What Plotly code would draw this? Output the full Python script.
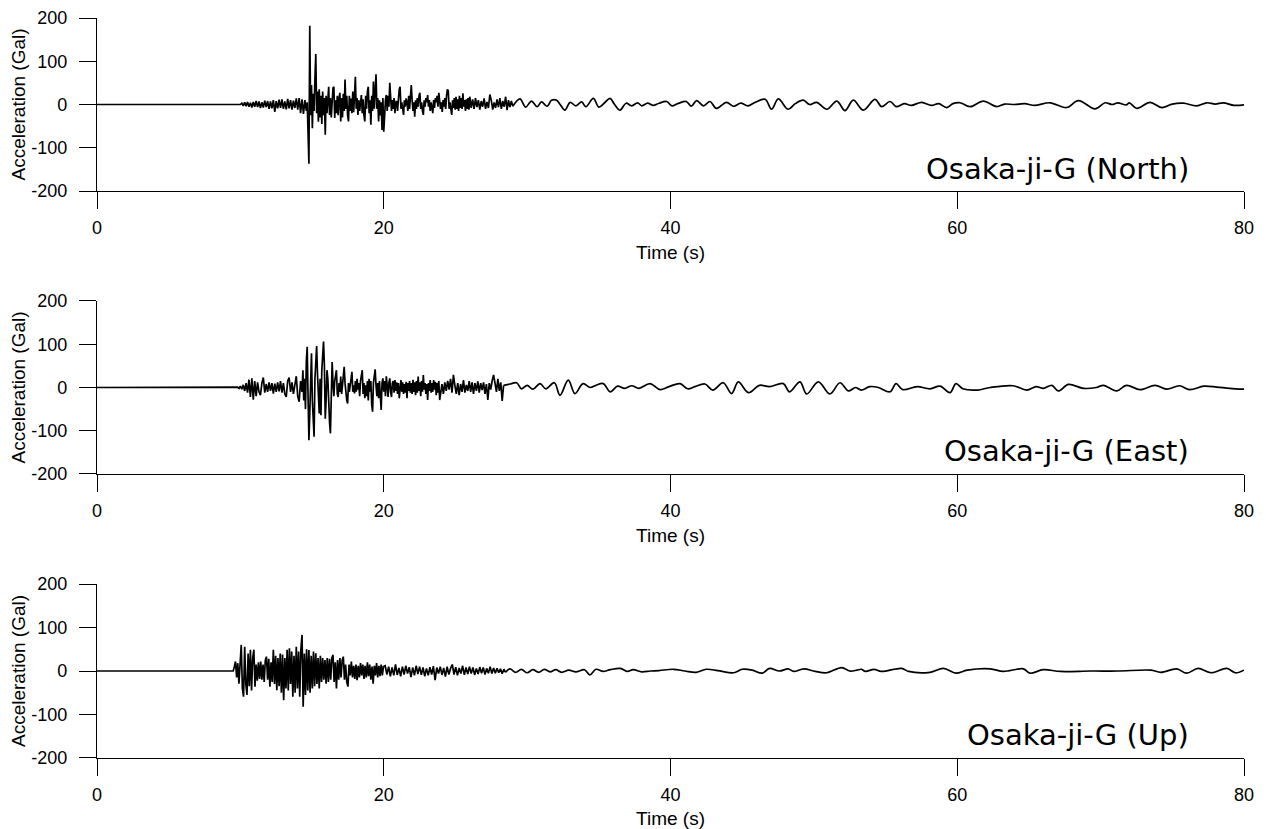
import plotly.graph_objects as go
from plotly.subplots import make_subplots

# ---------------- data ----------------
# Each trace is assembled from segments: (start time, step, values) for dense parts,
# and explicit (time, value) turning points for the quieter tail.

north_pre_t = [0.0, 9.9]
north_pre_a = [0, 0]
north_noise_a = [0, 3, -3, 5, -4, 6, -5, 4, -7, 6,
                 -5, 8, -6, 7, -8, 5, -7, 9, -6, 8,
                 -10, 7, -9, 10, -17, 8, -9, 11, -8, 12,
                 -10, 7, -11, 13, -9, 10, -12, 9, -8, 14,
                 -12, 15, -20, 12, -22, 10, -15]          # 10.0 s, step 0.1
north_main_a = [5, -45, -137, 182, -25, 45, -55, 25, -15, 60,
                117, -20, 30, -40, 35, -30, 20, -45, 30, -25,
                15, -70, 20, -20, 25, 41, -24, 15, -30, 20,
                38, 41, -31, 10, -20, 20, -25, 15, 27, -39,
                15, -30, 25, -15, 58, -10, 20, -25, -39, 20,
                -15, 14, -20, 30, -18, 20, 64, -10, 15, -24,
                10, -15, 5, 22, -20, 12, -25, -39, 20, -10,
                30, 41, -20, 10, -47, 20, -15, 53, -10, 45,
                70, -10, 15, -39, 10, -25, 5, -59, 15, -63,
                -20, 10, 22, -15, 20, -5, 50, 20, -15, 10,
                -10, 15, -20, 5, 8, -15, 20, 35, 41, -10,
                5, -20, -24, 10, -5, 14, 5, -15, 20, -10,
                30, 45, 10, -15, 5, -28, 10, -10, 15, -5,
                20, 27, -10, 5, -15, -24, 10, -5, 15, 5,
                22, -5, 10, -15, 5, -12, -20, 10, -8, 15,
                5, 20, -5, 27, 10, -10, 5, -17, 10, -5,
                15, -10, 20, 35, 32, -10, 5, -20, -24, 10,
                -8, 15, -12, 18, -10, 12, -15, 20, -8, 15,
                -10, 26, -5, 10, -15, 12, -10, 15, -12, 18]   # 14.66 s, step 0.06
north_late_a = [-8, 12, -10, 15, -6, 10, -12, 8, -5, 14,
                -10, 6, -8, 23, 10, -12, 5, -8, 12, -6,
                15, -10, 8, -5, 18, -13, 10, -6, 8, -4]       # 26.1 s, step 0.1
north_tail_t = [29.5, 29.9, 30.3, 30.7, 31.0, 31.4, 31.7, 32.06, 32.3, 32.64,
                33.0, 33.4, 33.8, 34.1, 34.62, 35.0, 35.4, 35.78, 36.1, 36.48,
                36.9, 37.3, 37.7, 38.0, 38.4, 38.8, 39.2, 39.73, 40.1, 40.5,
                41.1, 41.45, 41.82, 42.3, 42.75, 43.2, 43.9, 44.4, 44.9, 45.4,
                45.9, 46.6, 47.05, 47.52, 48.2, 48.7, 49.26, 49.7, 50.2, 50.9,
                51.6, 52.17, 52.75, 53.45, 54.26, 54.73, 55.31, 55.75, 56.3, 56.8,
                57.52, 58.2, 58.7, 59.26, 59.7, 60.19, 60.89, 61.82, 62.75, 63.3,
                64.0, 64.7, 65.4, 66.47, 67.63, 68.45, 69.61, 70.31, 70.8, 71.2,
                71.8, 72.0, 72.52, 73.45, 74.26, 75.0, 75.77, 76.7, 77.4, 78.0,
                78.56, 79.3, 80.0]
north_tail_a = [13, -6, 8, -5, 6, -4, 10, 10, 0, -13,
                5, -3, 6, -5, 14, -6, 4, 14, 0, -13,
                3, -3, 4, -3, 3, -2, 3, 7, -3, 2,
                7, -4, 9, -3, 7, -9, 5, -4, 3, -3,
                5, 12, -11, 13, -11, 2, 10, 0, 5, -11,
                8, -14, 10, -13, 12, -5, 7, -5, 2, -2,
                5, -2, 2, -7, 2, 4, -5, 8, -5, 1,
                0, 2, -2, 4, -7, 9, -10, 4, 0, 4,
                -1, 4, -9, 5, -7, 1, 3, -3, 4, 1,
                4, -2, -1]

east_pre_t = [0.0, 9.6]
east_pre_a = [0, 0]
east_noise_a = [0, 1, -2, 3, -4, 6, -8, 10, -12, 18,
                -22, 21, -28, 15, -20, 12, -10, -18, 10, 23,
                -12, 8, -10, 12, -8, 10, -14, 9, -10, 12,
                -9, 15, -12, 10, -15, -22, 15, 23, -10, 12,
                -15, 10, 26, -20, -33, 15, -10]               # 9.7 s, step 0.1
east_main_a = [40, -30, 20, -50, 60, 94, -20, -122, -60, 40,
               79, -30, -80, -114, 20, 60, 96, 30, -40, -60,
               20, -64, 40, 70, 106, 50, -72, -30, 40, 20,
               -50, -80, -106, 20, 59, 10, -20, 15, 30, 40,
               -15, -22, 10, -10, 25, -15, 5, 20, 48, 10,
               -20, -30, -37, 10, -10, 15, 20, 36, -10, 5,
               -14, 15, -10, 20, -5, 10, -20, 15, 30, 40,
               -15, 10, -25, 5, -20, 15, -30, 20, -10, 15,
               -40, -56, 10, 30, 42, 5, -20, 10, -25, 15,
               -30, -52, 10, 21, -10, 15, -20, 26, 5, -22,
               10, 21, -10, -22, 10, 15, -12, 17, -8, 12,
               -15, 10, -25, 5, 17, -10, 12, -15, 8, -12,
               13, -25, 10, -8, 15, -12, 10, -15, 18, -10,
               12, -18, 15, -12, 25, -8, 12, -20, 15, -10,
               29, -5, 10, -15, 8, -29, 10, -8, 17, -12,
               10, -10, 17, -5, 13, -18, 10, -12, 15, -29]    # 14.36 s, step 0.06
east_late_a = [-10, 8, -15, 12, -8, 15, -5, 20, -12, 29,
               5, -15, 10, -18, 8, -10, 17, -12, 6, -8,
               15, -10, 12, -15, 10, -8, 14, -12, 10, -6,
               12, -15, 8, -29, 10, -5, 15, 29, 10, -10,
               20, -8, 12, -31, 5]                             # 23.96 s, step 0.1
east_tail_t = [28.8, 29.27, 29.6, 30.0, 30.4, 30.9, 31.3, 31.9, 32.29, 32.87,
               33.34, 33.9, 34.4, 34.8, 35.31, 35.8, 36.3, 36.8, 37.3, 37.8,
               38.57, 39.27, 39.9, 40.66, 41.2, 41.7, 42.4, 42.95, 43.68, 44.26,
               44.73, 45.43, 46.2, 46.9, 47.87, 48.3, 49.03, 49.5, 50.31, 51.12,
               51.82, 52.4, 52.9, 53.3, 53.9, 54.5, 55.31, 55.73, 56.2, 57.2,
               58.1, 58.8, 59.5, 59.91, 60.4, 61.4, 62.3, 63.9, 64.85, 65.5,
               66.0, 66.6, 67.05, 67.75, 68.8, 69.7, 70.2, 71.12, 71.8, 72.75,
               73.8, 74.6, 75.5, 76.2, 77.2, 78.1, 79.0, 80.0]
east_tail_a = [8, 11, -3, 5, -4, 9, -3, 11, -18, 17,
               -14, 9, 0, 5, 9, -10, 3, -2, 4, -2,
               9, -5, 2, 9, -3, 2, 8, -6, 11, -14,
               13, -12, 5, 2, 9, -10, 13, -15, 13, -15,
               11, -8, 0, -6, 2, 0, -10, 9, -5, 2,
               -3, 3, -12, 9, -3, -6, 0, 4, -6, 2,
               -2, 5, -8, 7, -2, 0, 5, -8, 5, -5,
               5, -4, 4, -5, 3, 1, -2, -4]

up_pre_t = [0.0, 9.42]
up_pre_a = [0, 0]
up_main_a = [0, 10, 22, -15, 18, -29, 30, 60, -40, -59,
             56, -30, -55, 40, -35, 49, -45, 30, 49, -36,
             15, -22, 20, -18, 22, -20, 15, -25, 25, 33,
             -20, 28, -36, 20, -25, 49, -30, 35, -44, 30,
             -35, 40, -50, 38, -67, 30, -40, 49, -45, 52,
             -30, 45, -59, 35, -50, 56, -40, 45, -59, 50,
             83, -82, 40, -55, 50, -45, 48, -50, 35, -40,
             45, -35, 41, -30, 30, -40, 35, -25, 30, -20,
             25, -29, 30, -25, 28, -20, 30, 37, -25, 20,
             -40, 25, -20, 30, -15, 25, 33, -20, 15, -25,
             -36, 15, -10, 22, -15, 12, -18, 15, -21, 12,
             -15, 18, -10, 15, -18, 12, -15, 20, -12, 15,
             -20, 10, -29, 12, -10, 18, -15, 12, -12, 15,
             -10, 10]                                          # 9.5 s, step 0.08
up_late_a = [12, -8, 10, -12, 8, -10, 15, -9, 7, -12,
             10, -8, 12, -6, 9, -14, 8, -10, 12, -7,
             10, -9, 8, -12, 6, -10, 9, -8, 11, -21,
             8, -6, 10, -9, 7, -13, 10, -8, 6, 15,
             -8, 9, -10, 7, -6, 12, -9, 8, -7, 10,
             -6, 8, -9, 6, -7, 9, -5, 8, -8, 6,
             -5, 10, -6, 7, -5, 6, -4, 5, -6, 4, -3]       # 20.1 s, step 0.12
up_tail_t = [28.8, 29.2, 29.6, 30.0, 30.4, 30.8, 31.2, 31.6, 32.0, 32.4,
             32.9, 33.4, 34.0, 34.38, 34.8, 35.3, 35.8, 36.5, 37.0, 37.4,
             38.0, 38.6, 39.2, 40.2, 41.0, 41.8, 42.5, 43.3, 44.4, 45.0,
             45.7, 46.4, 46.9, 47.6, 48.2, 48.6, 49.3, 50.1, 50.9, 51.94,
             52.5, 53.0, 53.3, 53.6, 54.2, 54.7, 56.12, 56.6, 58.1, 59.03,
             59.91, 60.7, 62.3, 63.2, 64.61, 65.07, 66.0, 67.2, 69.3, 71.2,
             73.5, 74.2, 75.3, 76.0, 76.8, 77.7, 78.8, 79.4, 80.0]
up_tail_a = [5, -3, 4, -4, 3, -3, 4, -2, 3, -3,
             2, -2, 3, -9, 4, -1, 3, 6, -1, 3,
             -2, 0, 1, 4, 0, -3, 4, 1, -4, 4,
             2, -5, 6, 0, 5, -1, 5, -1, -4, 8,
             0, 2, 4, -1, 4, -1, 6, -1, -3, 6,
             -5, 2, 5, -1, 5, -5, 3, -1, 0, 0,
             2, -3, 5, -5, 6, -4, 6, -4, 2]

panel_labels = ["Osaka-ji-G (North)", "Osaka-ji-G (East)", "Osaka-ji-G (Up)"]
x_ticks = [0, 20, 40, 60, 80]
y_ticks = [-200, -100, 0, 100, 200]
y_tick_text = ["-200", "-100", "0", "100", "200"]


def stepped(t0, dt, vals):
    return [round(t0 + i * dt, 3) for i in range(len(vals))]


north_dense_t = (north_pre_t + stepped(10.0, 0.1, north_noise_a)
                 + stepped(14.66, 0.06, north_main_a) + stepped(26.1, 0.1, north_late_a))
north_dense_a = north_pre_a + north_noise_a + north_main_a + north_late_a

east_dense_t = (east_pre_t + stepped(9.7, 0.1, east_noise_a)
                + stepped(14.36, 0.06, east_main_a) + stepped(23.96, 0.1, east_late_a))
east_dense_a = east_pre_a + east_noise_a + east_main_a + east_late_a

up_dense_t = up_pre_t + stepped(9.5, 0.08, up_main_a) + stepped(20.1, 0.12, up_late_a)
up_dense_a = up_pre_a + up_main_a + up_late_a

panels = [
    (north_dense_t, north_dense_a, north_tail_t, north_tail_a),
    (east_dense_t, east_dense_a, east_tail_t, east_tail_a),
    (up_dense_t, up_dense_a, up_tail_t, up_tail_a),
]

# ---------------- figure ----------------
W, H = 1266, 829
fig = make_subplots(rows=3, cols=1)
FONT = "Liberation Sans, Arial, sans-serif"
TICK_FONT = dict(family=FONT, size=18, color="black")
TITLE_FONT = dict(family=FONT, size=19, color="black")
# plot areas (page pixels): x 97-1244; y 18-191, 301-474, 584-758
domains = [[0.7662, 1.0], [0.3838, 0.6176], [0.0, 0.2351]]
LINE = dict(color="black", width=1.7)

for i, (dt, da, tt, ta) in enumerate(panels):
    fig.add_trace(go.Scatter(x=dt, y=da, mode="lines", line=LINE,
                             showlegend=False, hoverinfo="skip"),
                  row=i + 1, col=1)
    # quiet tail: continues from the last dense sample, drawn as a smooth curve
    fig.add_trace(go.Scatter(x=[dt[-1]] + tt, y=[da[-1]] + ta, mode="lines",
                             line=dict(color="black", width=1.7, shape="spline", smoothing=1.0),
                             showlegend=False, hoverinfo="skip"),
                  row=i + 1, col=1)
    fig.update_xaxes(range=[0, 80], tickvals=x_ticks, ticks="outside", ticklen=17,
                     tickwidth=1.3, tickcolor="black", showline=True, linecolor="black",
                     linewidth=1.3, showgrid=False, zeroline=False, tickfont=TICK_FONT,
                     ticklabelstandoff=3, automargin=False, ticklabeloverflow="allow",
                     title=dict(text="Time (s)", font=TITLE_FONT, standoff=8),
                     row=i + 1, col=1)
    fig.update_yaxes(range=[-200, 200], tickvals=y_ticks, ticktext=y_tick_text,
                     ticks="outside", ticklen=17,
                     tickwidth=1.3, tickcolor="black", showline=True, linecolor="black",
                     linewidth=1.3, showgrid=False, zeroline=False, tickfont=TICK_FONT,
                     ticklabelstandoff=8, domain=domains[i], automargin=False,
                     ticklabeloverflow="allow",
                     title=dict(text="Acceleration (Gal)", font=TITLE_FONT, standoff=0),
                     row=i + 1, col=1)
    xref = "x" if i == 0 else f"x{i + 1}"
    yref = "y" if i == 0 else f"y{i + 1}"
    fig.add_annotation(x=76.3, y=-148, xref=xref, yref=yref, text=panel_labels[i],
                       showarrow=False, xanchor="right", yanchor="middle",
                       font=dict(family="DejaVu Sans, sans-serif", size=29, color="black"))

fig.update_layout(width=W, height=H,
                  margin=dict(l=97, r=22, t=18, b=71),
                  paper_bgcolor="white", plot_bgcolor="white")

# remove the browser's default 8px page margin so the figure fills the window exactly
fig.write_html("out.html", config={"displayModeBar": False},
               post_script="document.body.style.margin='0';document.body.style.overflow='hidden';")
